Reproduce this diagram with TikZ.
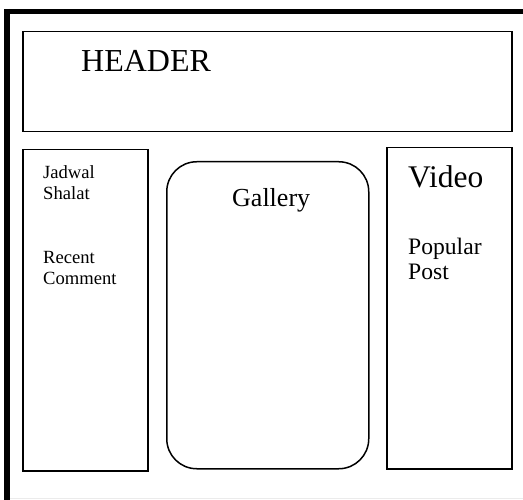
\documentclass[tikz,border=0pt]{standalone}
\usepackage{fontspec}
\setmainfont{Liberation Serif}
\usetikzlibrary{positioning}

\begin{document}
\begin{tikzpicture}[x=1pt,y=-1pt,
    panel/.style={draw,line width=1.5pt,rectangle,inner sep=0pt,anchor=north west},
    label/.style={inner sep=0pt,anchor=base west,align=left}]
    \useasboundingbox (0,0) rectangle (523,500);
    % outer frame
    \coordinate (tl) at (7,11.5);
    \coordinate (tr) at (523,11.5);
    \coordinate (bl) at (7,500);
    \draw [line width=5pt] (4,11.5) -- (tr);
    \draw [line width=6pt] (7,9) -- (bl);
    \draw [black!8,line width=1pt] (10,498.5) -- (523,498.5);

    \node [panel,minimum width=489pt,minimum height=100pt] (header) at (22,31) {};
    \node [label,font=\fontsize{32}{32}\selectfont] (headertxt) at (81,72) {HEADER};

    \node [panel,minimum width=125pt,minimum height=321pt] (left) at (22,149) {};
    % base is the last line
    \node [label,font=\fontsize{18.6}{21}\selectfont] (jadwal) at (43,200) {Jadwal\\Shalat};
    \node [label,font=\fontsize{18.6}{21}\selectfont] (recent) at (43,285) {Recent\\Comment};

    \node [panel,rounded corners=30pt,minimum width=202pt,minimum height=307pt] (gallery) at (166,161) {};
    \node [label,font=\fontsize{26}{26}\selectfont] (gallerytxt) at (232,207) {Gallery};

    \node [panel,minimum width=125pt,minimum height=321pt] (right) at (386,147) {};
    \node [label,font=\fontsize{31.5}{32}\selectfont] (video) at (408,188) {Video};
    \node [label,font=\fontsize{23.6}{25}\selectfont] (popular) at (408,280) {Popular\\Post};
  \end{tikzpicture}
\end{document}
